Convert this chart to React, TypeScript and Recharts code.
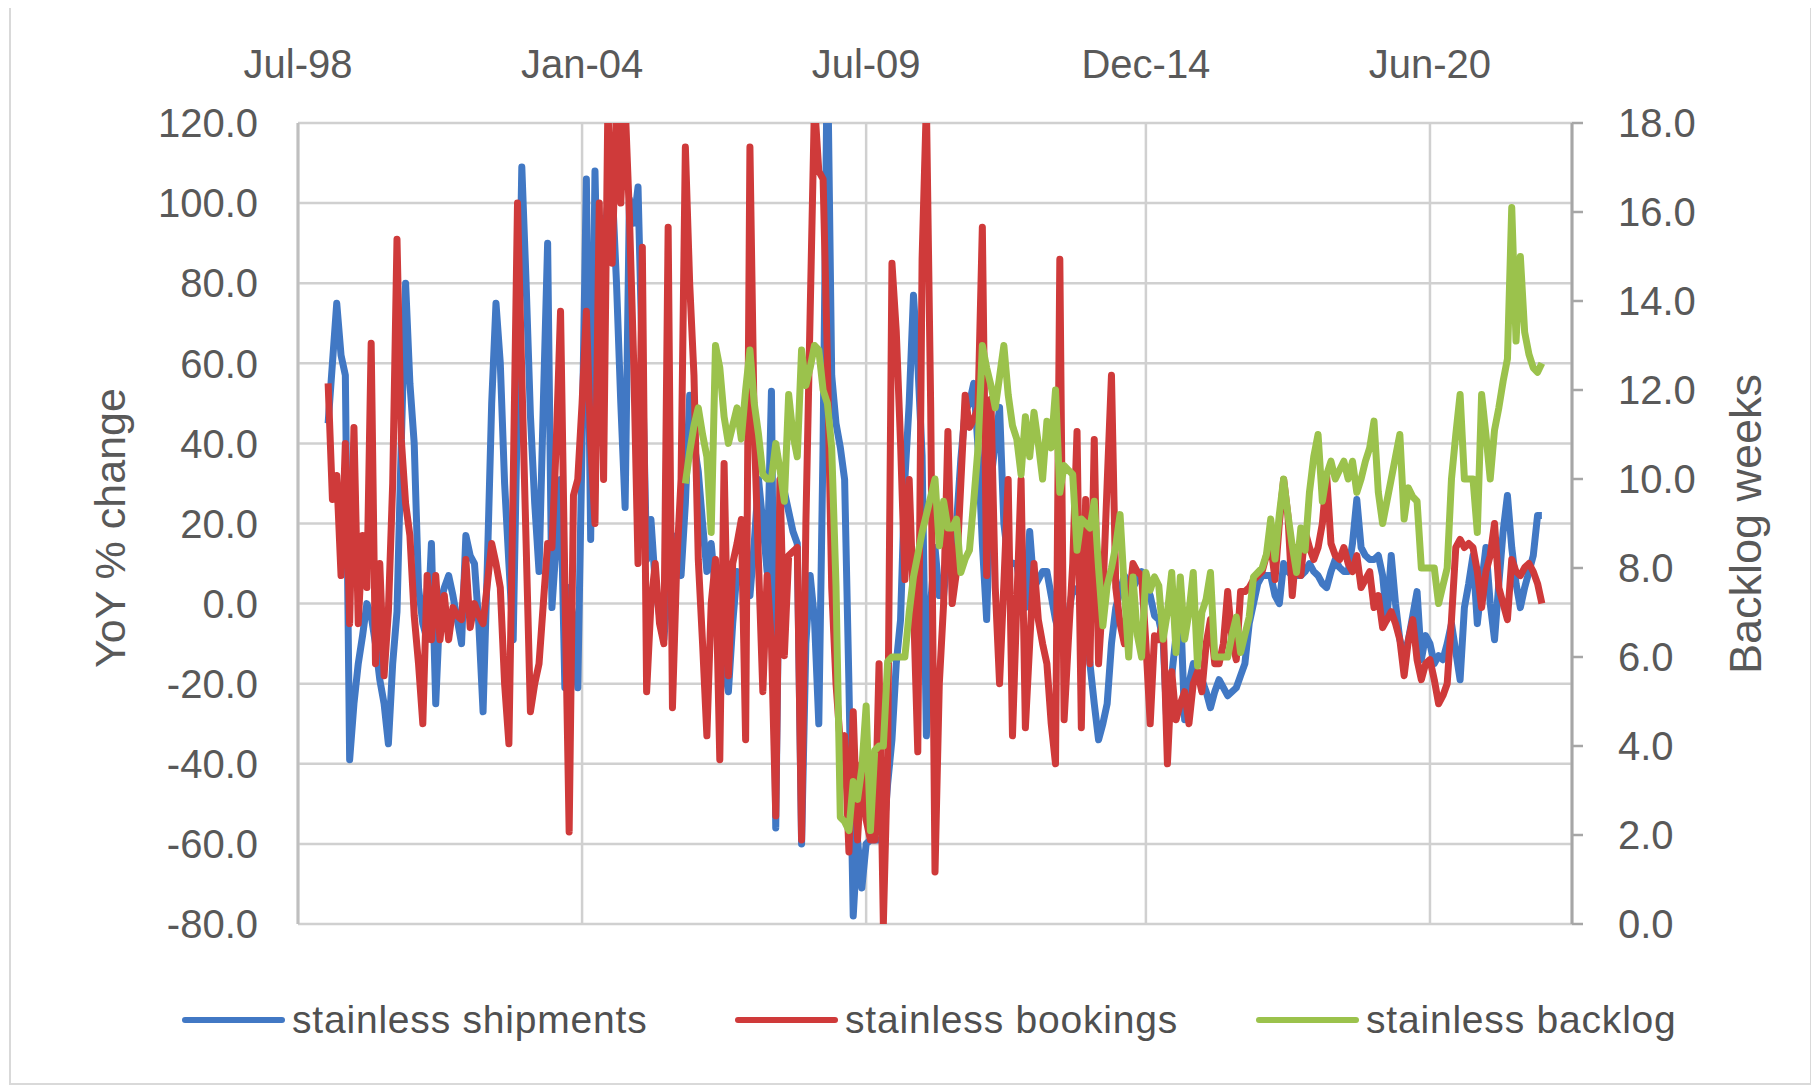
import { CartesianGrid, Line, LineChart, XAxis, YAxis } from "recharts";

// monthly axis Jul-98 .. Mar-23
const MONTH_NAMES = ["Jan", "Feb", "Mar", "Apr", "May", "Jun", "Jul", "Aug", "Sep", "Oct", "Nov", "Dec"];
const N_MONTHS = 297;
const months = Array.from({ length: N_MONTHS }, (_, i) => {
  const m = (6 + i) % 12;
  const y = (98 + Math.floor((6 + i) / 12)) % 100;
  return `${MONTH_NAMES[m]}-${String(y).padStart(2, "0")}`;
});

const dateTicks = ["Jul-98", "Jan-04", "Jul-09", "Dec-14", "Jun-20"];
const yoyTicks = [-80, -60, -40, -20, 0, 20, 40, 60, 80, 100, 120];
const backlogTicks = [0, 2, 4, 6, 8, 10, 12, 14, 16, 18];

// YoY % change, from Feb-99
const SERIES_START = 7;
const shipments = [
  45, 60, 75, 62, 57, -39, -25, -15, -8, 0, -3,
  -10, -19, -25, -35, -15, -2, 40, 80, 55, 40, 4, -5,
  -9, 15, -25, 0, 4, 7, 2, -4, -10, 17, 12, 10,
  -5, -27, 10, 50, 75, 60, 30, 10, -9, 50, 109, 80,
  47, 25, 8, 50, 90, -1, 15, 31, -21, 4, -5, -21,
  40, 106, 16, 108, 57, 90, 100, 104, 80, 50, 24, 101,
  95, 104, 60, 11, 21, 5, -3, -9, 5, 17, 10, 7,
  25, 52, 40, 33, 20, 8, 15, 3, -9, -15, -22, -5,
  8, 6, 3, 2, 15, 31, 20, 8, 53, -56, 31, 28,
  23, 18, 15, -60, -10, 7, -4, -30, 40, 140, 57, 45,
  39, 31, -20, -78, -59, -71, -60, -59, -59, -59, -59, -45,
  -34, -15, -4, 31, 50, 77, 60, 37, -33, 0, 14, 2,
  2, 14, 8, 20, 36, 48, 50, 55, 39, 15, -4, 31,
  40, 49, 20, 11, 10, 10, 3, -1, 18, 4, 6, 8,
  8, 2, -4, -8, -10, -3, 4, 3, 2, -5, -15, -25,
  -34, -30, -25, -10, -1, 3, 7, 5, 4, 6, 8, 5,
  2, -3, -4, -9, -33, -18, -8, 0, -29, -20, -15, -19,
  -19, -22, -26, -22, -19, -21, -23, -22, -21, -18, -15, -5,
  0, 5, 7, 7, 7, 2, 0, 10, 8, 7, 7, 7,
  8, 10, 8, 7, 5, 4, 8, 11, 9, 8, 8, 15,
  26, 14, 12, 11, 11, 12, 7, -4, 12, 0, -9, -13,
  -9, -3, 3, -14, -8, -10, -15, -13, -14, -10, -5, -12,
  -19, -1, 5, 12, -5, 5, 14, 0, -9, 5, 18, 27,
  14, 5, -1, 4, 8, 12, 22, 22,
];

const bookings = [
  55, 26, 32, 7, 40, -5, 44, -5, 17, 4, 65,
  -15, 10, -18, -2, 30, 91, 41, 25, 17, -3, -15, -30,
  7, -9, 7, -9, 2, -9, -1, -3, -4, 11, -6, 0,
  -3, -5, 5, 15, 10, 4, -20, -35, 30, 100, 57, 15,
  -27, -20, -15, 0, 15, 14, 40, 73, 5, -57, 27, 31,
  50, 73, 40, 20, 100, 31, 125, 85, 125, 100, 125, 97,
  60, 10, 89, -22, 0, 10, -5, -10, 94, -26, 10, 31,
  114, 80, 57, 11, -10, -33, 0, 11, -39, 35, -18, 10,
  15, 21, -34, 114, 44, 10, -22, 7, -10, -53, 31, -13,
  12, 13, 14, -59, 20, 73, 125, 108, 106, 61, 4, -20,
  -35, -33, -62, -27, -59, -40, -54, -59, -59, -15, -80, -38,
  85, 68, 40, 6, 31, 0, -37, 86, 125, 49, -67, -20,
  0, 43, 0, 8, 30, 52, 44, 46, 49, 94, 7, 51,
  4, -20, 5, 31, -33, 0, 31, -31, -10, 10, -4, -10,
  -15, -30, -40, 86, -29, -9, 10, 43, -31, 26, -15, 41,
  -15, 2, 30, 57, 4, -5, -10, 0, 10, 8, 7, -10,
  -30, -8, -9, -4, -40, -17, -29, -25, -22, -30, -20, -17,
  -22, -10, -4, -15, -15, -10, 3, -9, -14, 3, 3, 4,
  6, 7, 8, 12, 15, 6, 20, 31, 22, 2, 14, 7,
  18, 14, 11, 14, 20, 32, 15, 12, 11, 14, 10, 8,
  12, 4, 6, 8, -1, 2, -6, -4, -2, -5, -9, -18,
  -9, -4, -14, -19, -15, -14, -19, -25, -23, -20, -4, 14,
  16, 14, 15, 14, 8, -1, 8, 12, 20, 4, 0, -4,
  11, 8, 7, 9, 10, 8, 5, 0,
];

// backlog weeks, from Jan-06
const BACKLOG_START = 90;
const backlog = [
  9.9, 10.6, 11.2, 11.6, 11.0, 10.5, 8.8, 13.0, 12.5, 11.4, 10.8, 11.2,
  11.6, 10.9, 12.0, 12.9, 11.7, 11.0, 10.1, 10.0, 10.0, 10.8, 10.2, 9.5,
  11.9, 11.0, 10.5, 12.9, 12.1, 12.5, 13.0, 12.9, 12.0, 11.7, 10.7, 7.6,
  2.4, 2.3, 2.1, 3.2, 2.8, 3.5, 4.9, 2.1, 3.9, 4.0, 4.0, 5.9,
  6.0, 6.0, 6.0, 6.0, 7.0, 7.8, 8.3, 8.8, 9.2, 9.6, 10.0, 8.5,
  9.5, 8.9, 8.9, 9.1, 7.9, 8.2, 8.4, 9.5, 10.7, 13.0, 12.5, 12.1,
  11.6, 12.3, 13.0, 11.9, 11.2, 10.9, 10.1, 11.4, 10.5, 11.5, 10.8, 10.0,
  11.3, 10.7, 12.0, 9.7, 10.3, 10.2, 10.1, 8.4, 9.1, 9.0, 8.9, 9.5,
  8.0, 6.7, 7.6, 8.0, 8.5, 9.2, 7.5, 6.0, 7.8, 6.5, 6.0, 7.9,
  7.5, 7.8, 7.6, 6.4, 7.0, 7.9, 6.1, 7.8, 6.4, 7.0, 7.9, 5.8,
  7.0, 7.3, 7.9, 6.0, 6.0, 6.0, 6.0, 6.5, 6.9, 6.1, 6.5, 6.9,
  7.8, 7.9, 8.0, 8.3, 9.1, 8.2, 9.2, 10.0, 9.2, 8.5, 7.9, 8.9,
  8.4, 9.7, 10.5, 11.0, 9.5, 10.1, 10.4, 10.0, 10.2, 10.4, 10.0, 10.4,
  9.7, 10.0, 10.4, 10.7, 11.3, 9.7, 9.0, 9.5, 10.0, 10.5, 11.0, 9.1,
  9.8, 9.6, 9.5, 8.0, 8.0, 8.0, 8.0, 7.2, 7.6, 8.0, 10.0, 11.0,
  11.9, 10.0, 10.0, 10.0, 8.8, 11.9, 11.0, 10.0, 11.1, 11.6, 12.2, 12.7,
  16.1, 13.1, 15.0, 13.3, 12.8, 12.5, 12.4, 12.6,
];

const pick = (arr: number[], start: number, i: number) =>
  i >= start && i - start < arr.length ? arr[i - start] : null;

const data = months.map((month, i) => ({
  month,
  shipments: pick(shipments, SERIES_START, i),
  bookings: pick(bookings, SERIES_START, i),
  backlog: pick(backlog, BACKLOG_START, i),
}));

const BLUE = "#4178c4";
const RED = "#cf3a3a";
const GREEN = "#9bc24c";
const TEXT = "#595959";
const FONT = "'Liberation Sans', Arial, sans-serif";

const tickStyle = { fontFamily: FONT, fontSize: 40, fill: TEXT };

const legendItems = [
  { name: "stainless shipments", color: BLUE, x: 174 },
  { name: "stainless bookings", color: RED, x: 727 },
  { name: "stainless backlog", color: GREEN, x: 1248 },
];

export default function App() {
  return (
    <div style={{ position: "relative", width: 1803, height: 1078 }}>
      <div
        style={{
          position: "absolute",
          left: 1,
          top: -2,
          width: 1803,
          height: 1079,
          border: "2px solid #d9d9d9",
          boxSizing: "border-box",
          pointerEvents: "none",
        }}
      />
      <LineChart
        width={1803}
        height={1078}
        data={data}
        margin={{ top: 0, right: 0, bottom: 162, left: 0 }}
        style={{ position: "absolute", left: 0, top: 0 }}
      >
        <CartesianGrid yAxisId="left" stroke="#d0d0d0" strokeWidth={2.5} />
        <XAxis
          dataKey="month"
          orientation="top"
          height={115}
          ticks={dateTicks}
          interval={0}
          axisLine={false}
          tickLine={false}
          tickSize={0}
          tickMargin={45}
          tick={tickStyle}
        />
        <YAxis
          yAxisId="left"
          width={290}
          domain={[-80, 120]}
          ticks={yoyTicks}
          allowDataOverflow
          tickFormatter={(v: number) => v.toFixed(1)}
          axisLine={{ stroke: "#bfbfbf", strokeWidth: 3 }}
          tickLine={false}
          tickSize={0}
          tickMargin={40}
          tick={tickStyle}
        />
        <YAxis
          yAxisId="right"
          orientation="right"
          width={239}
          domain={[0, 18]}
          ticks={backlogTicks}
          allowDataOverflow
          tickFormatter={(v: number) => v.toFixed(1)}
          axisLine={{ stroke: "#a6a6a6", strokeWidth: 3 }}
          tickLine={{ stroke: "#a6a6a6", strokeWidth: 2.5 }}
          tickSize={11}
          tickMargin={35}
          tick={tickStyle}
        />
        <Line
          yAxisId="left"
          dataKey="shipments"
          stroke={BLUE}
          strokeWidth={7}
          strokeLinejoin="round"
          dot={false}
          type="linear"
          isAnimationActive={false}
        />
        <Line
          yAxisId="left"
          dataKey="bookings"
          stroke={RED}
          strokeWidth={7}
          strokeLinejoin="round"
          dot={false}
          type="linear"
          isAnimationActive={false}
        />
        <Line
          yAxisId="right"
          dataKey="backlog"
          stroke={GREEN}
          strokeWidth={7}
          strokeLinejoin="round"
          dot={false}
          type="linear"
          isAnimationActive={false}
        />
      </LineChart>

      <div
        style={{
          position: "absolute",
          left: 102,
          top: 520,
          transform: "translate(-50%, -50%) rotate(-90deg)",
          fontFamily: FONT,
          fontSize: 43,
          color: TEXT,
          whiteSpace: "nowrap",
        }}
      >
        YoY % change
      </div>
      <div
        style={{
          position: "absolute",
          left: 1738,
          top: 516,
          transform: "translate(-50%, -50%) rotate(-90deg)",
          fontFamily: FONT,
          fontSize: 45,
          color: TEXT,
          whiteSpace: "nowrap",
        }}
      >
        Backlog weeks
      </div>

      {legendItems.map((item) => (
        <div
          key={item.name}
          style={{
            position: "absolute",
            left: item.x,
            top: 1012,
            transform: "translateY(-50%)",
            display: "flex",
            alignItems: "center",
            fontFamily: FONT,
            fontSize: 39,
            letterSpacing: 0.8,
            color: "#505050",
            whiteSpace: "nowrap",
          }}
        >
          <span
            style={{
              display: "inline-block",
              width: 103,
              height: 6,
              borderRadius: 3,
              background: item.color,
              marginRight: 7,
            }}
          />
          {item.name}
        </div>
      ))}
    </div>
  );
}
